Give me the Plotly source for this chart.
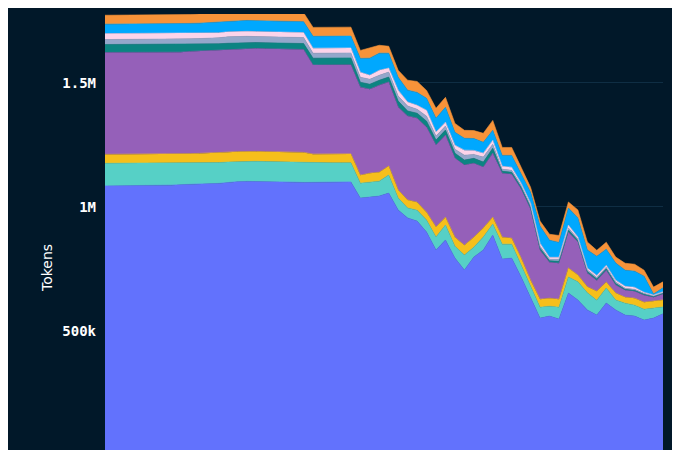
import plotly.graph_objects as go
import pandas as pd

# 60 daily points
dates = pd.date_range("2024-03-01", periods=60, freq="D")

# values in thousands of tokens, bottom layer first
blue = [1085, 1085, 1085, 1085, 1085, 1085, 1085, 1088, 1090, 1092, 1093, 1094, 1095,
        1100, 1102, 1103, 1103, 1102, 1101, 1100, 1100, 1099,
        1100, 1101, 1101, 1101, 1101,
        1036, 1040, 1044, 1056, 988, 956, 943, 899, 827, 867, 794, 746, 798, 827, 887,
        790, 794, 718, 637, 552, 560, 548, 653, 625, 585, 564, 613, 585, 564, 560, 544, 552, 569]
mint = [91, 91, 91, 91, 91, 91, 91, 88, 87, 86, 85, 84, 84,
        81, 81, 81, 81, 81, 81, 81, 81, 81,
        77, 77, 77, 77, 77,
        60, 60, 60, 73, 48, 40, 44, 48, 52, 60, 48, 60, 40, 52, 44,
        60, 56, 48, 44, 44, 40, 48, 65, 73, 69, 60, 60, 40, 48, 44, 44, 40, 28]
yellow = [36, 36, 36, 36, 36, 36, 36, 36, 36, 37, 38, 39, 40,
          40, 40, 40, 40, 40, 40, 40, 40, 40,
          36, 36, 36, 36, 36,
          32, 36, 36, 36, 32, 32, 32, 32, 40, 32, 36, 40, 40, 36, 28,
          28, 24, 28, 24, 32, 32, 32, 36, 28, 24, 36, 24, 28, 24, 28, 28, 28, 28]
purple = [411, 411, 411, 411, 411, 411, 411, 411, 411, 412, 413, 414, 415,
          415, 415, 415, 415, 415, 415, 415, 415, 415,
          359, 359, 359, 359, 359,
          355, 339, 351, 339, 335, 339, 339, 343, 331, 331, 319, 323, 298, 246, 258,
          258, 258, 278, 286, 198, 145, 145, 145, 133, 56, 44, 48, 32, 28, 28, 28, 16, 24]
teal = [32, 32, 32, 32, 32, 32, 32, 32, 32, 30, 28, 26, 24,
        24, 24, 24, 24, 24, 24, 24, 24, 24,
        28, 28, 28, 28, 28,
        20, 20, 20, 20, 24, 20, 20, 24, 20, 20, 20, 20, 20, 20, 20,
        8, 8, 8, 8, 8, 6, 8, 8, 6, 6, 6, 6, 6, 4, 4, 4, 3, 3]
gray = [20, 20, 20, 20, 20, 20, 20, 20, 20, 21, 22, 23, 24,
        26, 26, 25, 24, 24, 24, 24, 24, 24,
        20, 20, 20, 20, 20,
        20, 20, 20, 20, 20, 20, 16, 20, 16, 16, 16, 20, 16, 20, 16,
        8, 8, 8, 8, 8, 6, 8, 8, 6, 6, 6, 6, 6, 4, 4, 4, 3, 3]
pink = [24, 24, 24, 24, 24, 24, 24, 24, 24, 23, 22, 21, 20,
        20, 20, 20, 20, 20, 20, 20, 20, 20,
        20, 20, 20, 20, 20,
        20, 16, 20, 16, 24, 16, 16, 24, 16, 16, 16, 20, 16, 16, 16,
        12, 12, 8, 8, 12, 8, 8, 12, 8, 8, 8, 8, 8, 8, 8, 4, 3, 3]
sky = [38, 38, 38, 38, 38, 38, 38, 38, 38, 39, 40, 42, 44,
       44, 44, 44, 44, 44, 44, 44, 44, 44,
       48, 48, 48, 48, 48,
       56, 69, 69, 60, 52, 48, 52, 48, 56, 60, 52, 48, 48, 44, 40,
       44, 48, 40, 44, 69, 69, 60, 69, 77, 73, 77, 65, 69, 65, 65, 65, 4, 16]
orange = [36, 36, 36, 36, 36, 36, 36, 36, 36, 36, 37, 37, 38,
          38, 38, 38, 38, 38, 38, 38, 37, 36,
          36, 36, 36, 36, 36,
          32, 40, 32, 28, 28, 40, 44, 32, 40, 40, 36, 32, 32, 36, 40,
          32, 32, 24, 20, 20, 24, 28, 24, 32, 32, 24, 28, 24, 28, 28, 24, 28, 24]

series_names = ["Model A", "Model B", "Model C", "Model D", "Model E",
                "Model F", "Model G", "Model H", "Model I"]
series_values = [blue, mint, yellow, purple, teal, gray, pink, sky, orange]
series_colors = ["#6272fd", "#56d0c6", "#f6bf1b", "#9560b9", "#0b8482",
                 "#94a7cb", "#fcd4ea", "#00a8fe", "#f79339"]

y_tickvals = [0, 500000, 1000000, 1500000]
y_ticktext = ["0", "500k", "1M", "1.5M"]

BG = "#011829"

fig = go.Figure()
for name, vals, col in zip(series_names, series_values, series_colors):
    fig.add_trace(go.Scatter(
        x=dates, y=[v * 1000 for v in vals], name=name,
        mode="lines", stackgroup="one",
        line=dict(color=col, width=0.6), fillcolor=col,
        hoverinfo="x+y+name",
    ))

fig.update_layout(
    width=672, height=520,
    margin=dict(l=97, r=17, t=6, b=73),
    paper_bgcolor=BG, plot_bgcolor=BG,
    showlegend=False,
    font=dict(family="DejaVu Sans Mono", color="#ffffff", size=14),
    xaxis=dict(range=[dates[0], dates[-1]], showgrid=False, zeroline=False,
               showline=False, showticklabels=False),
    yaxis=dict(range=[0, 1778000], tickvals=y_tickvals, ticktext=y_ticktext,
               showgrid=True, gridcolor="#0f2e44", gridwidth=1,
               zeroline=False, showline=False, ticks="",
               ticklabelstandoff=8,
               tickfont=dict(family="DejaVu Sans Mono", size=14, color="#ffffff",
                             weight="bold")),
    annotations=[dict(text="Tokens", xref="paper", yref="paper",
                      x=-58 / 558, y=(455 - 268) / 441, textangle=-90,
                      showarrow=False, xanchor="center", yanchor="middle",
                      font=dict(family="DejaVu Sans", size=14, color="#ffffff"))],
)

fig.write_html("out.html", config={"displayModeBar": False})
